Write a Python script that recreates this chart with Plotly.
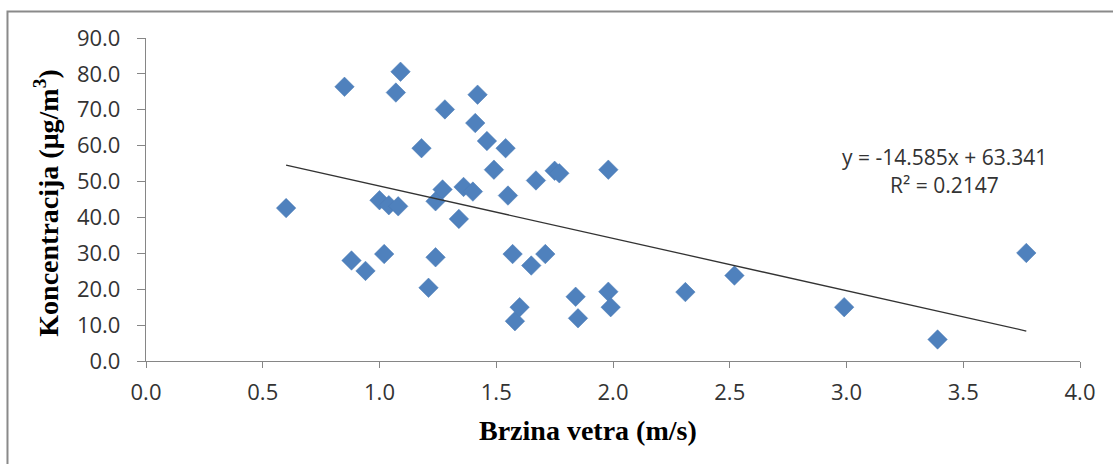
import plotly.graph_objects as go

# Wind speed (m/s) and measured concentration (µg/m³)
wind_speed = [
    0.60, 0.85, 0.88, 0.94, 1.00, 1.02, 1.04, 1.07, 1.08, 1.09,
    1.18, 1.21, 1.24, 1.24, 1.27, 1.28, 1.34, 1.36, 1.40, 1.41,
    1.42, 1.46, 1.49, 1.54, 1.55, 1.57, 1.58, 1.60, 1.65, 1.67,
    1.71, 1.75, 1.77, 1.84, 1.85, 1.98, 1.98, 1.99, 2.31, 2.52,
    2.99, 3.39, 3.77,
]
concentration = [
    42.6, 76.4, 28.0, 25.1, 44.8, 29.8, 43.4, 74.8, 43.1, 80.6,
    59.3, 20.4, 28.9, 44.5, 47.8, 70.1, 39.6, 48.5, 47.2, 66.3,
    74.2, 61.3, 53.3, 59.3, 46.1, 29.8, 11.1, 15.0, 26.6, 50.3,
    29.8, 53.0, 52.3, 17.9, 11.9, 53.3, 19.3, 15.0, 19.2, 23.8,
    15.0, 6.0, 30.1,
]

# Linear trend line parameters
slope = -14.585
intercept = 63.341
r_squared = 0.2147

x_ticks = [0.0, 0.5, 1.0, 1.5, 2.0, 2.5, 3.0, 3.5, 4.0]
y_ticks = [0, 10, 20, 30, 40, 50, 60, 70, 80, 90]

trend_x = [min(wind_speed), max(wind_speed)]
trend_y = [slope * v + intercept for v in trend_x]

axis_gray = "#868686"
text_gray = "#333333"
sans = "Open Sans, Noto Sans, sans-serif"
tick_font = dict(family=sans, size=22, color=text_gray)
title_font = dict(family="Liberation Serif, Times New Roman, serif", size=28,
                  color="#000000", weight="bold")
eq_font = dict(family=sans, size=21, color=text_gray)

fig = go.Figure()

fig.add_trace(go.Scatter(
    x=wind_speed,
    y=concentration,
    mode="markers",
    marker=dict(symbol="diamond", size=15, color="#4F81BD",
                line=dict(color="#4A7AB5", width=0.5)),
    showlegend=False,
    hoverinfo="x+y",
))

fig.add_trace(go.Scatter(
    x=trend_x,
    y=trend_y,
    mode="lines",
    line=dict(color="#333333", width=1.3),
    showlegend=False,
    hoverinfo="skip",
))

fig.update_layout(
    width=1113,
    height=464,
    margin=dict(l=146, r=33, t=38, b=103),
    paper_bgcolor="white",
    plot_bgcolor="white",
    xaxis=dict(
        range=[0, 4],
        tickvals=x_ticks,
        tickformat=".1f",
        showgrid=False,
        zeroline=False,
        showline=True,
        linecolor=axis_gray,
        linewidth=1.3,
        ticks="outside",
        ticklen=6,
        tickwidth=1.3,
        tickcolor=axis_gray,
        tickfont=tick_font,
        ticklabelstandoff=5,
    ),
    yaxis=dict(
        range=[0, 90],
        tickvals=y_ticks,
        tickformat=".1f",
        showgrid=False,
        zeroline=False,
        showline=True,
        linecolor=axis_gray,
        linewidth=1.3,
        ticks="outside",
        ticklen=8,
        tickwidth=1.3,
        tickcolor=axis_gray,
        tickfont=tick_font,
        ticklabelstandoff=12,
    ),
    shapes=[
        # Chart frame (only its top and left edges fall inside the page)
        dict(type="rect", xref="paper", yref="paper",
             x0=-0.1483, x1=1.2, y0=-0.6, y1=1.082,
             line=dict(color="#8a8a8a", width=2), layer="below"),
    ],
    annotations=[
        dict(text="Brzina vetra (m/s)", xref="paper", yref="paper",
             x=0.473, y=-0.215, xanchor="center", yanchor="middle",
             showarrow=False, font=title_font),
        dict(text="Koncentracija (μg/m<sup>3</sup>)", xref="paper", yref="paper",
             x=-0.106, y=0.49, xanchor="center", yanchor="middle",
             textangle=-90, showarrow=False, font=title_font),
        dict(text=f"y = {slope}x + {intercept}", xref="x", yref="y",
             x=3.42, y=56.8, xanchor="center", yanchor="middle",
             showarrow=False, font=eq_font),
        dict(text=f"R² = {r_squared}", xref="x", yref="y",
             x=3.42, y=49.0, xanchor="center", yanchor="middle",
             showarrow=False, font=eq_font),
    ],
)

fig.write_html("out.html")
